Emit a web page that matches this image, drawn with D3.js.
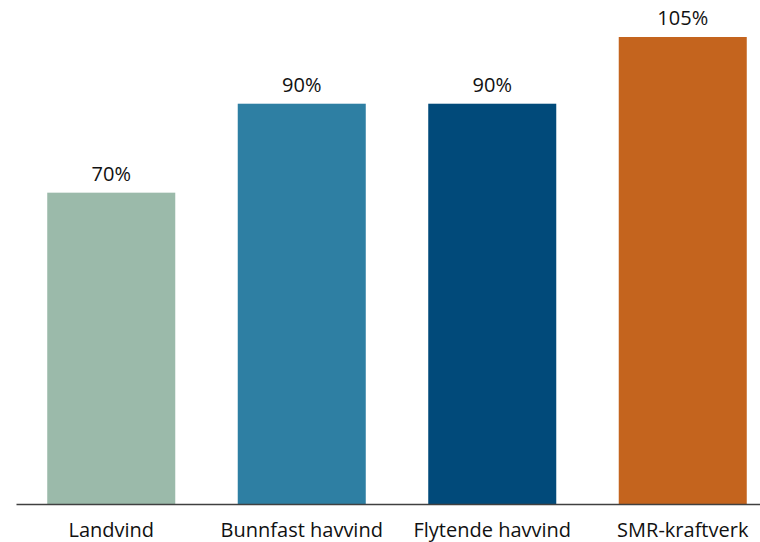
<!DOCTYPE html>
<html>
<head>
<meta charset="utf-8">
<script src="https://cdn.jsdelivr.net/npm/d3@7"></script>
<style>
  html, body { margin: 0; padding: 0; background: #fff; }
  svg { display: block; }
  text { font-family: "Open Sans", "Noto Sans", sans-serif; fill: #111; }
</style>
</head>
<body>
<svg id="chart" width="760" height="542"></svg>
<script>
// Technology categories and their values (percent)
const categories = ["Landvind", "Bunnfast havvind", "Flytende havvind", "SMR-kraftverk"];
const values = [70, 90, 90, 105];
const colors = ["#9bbaaa", "#2e7fa3", "#014a7a", "#c4641e"];

const svg = d3.select("#chart");
const baselineY = 504;
const topY = 37;
const fontSize = "20px";

const x = d3.scaleBand()
  .domain(categories)
  .range([16, 778])
  .paddingInner(0.328)
  .paddingOuter(0.164);

const y = d3.scaleLinear()
  .domain([0, 105])
  .range([baselineY, topY]);

// Bars
svg.selectAll("rect.bar")
  .data(categories)
  .join("rect")
  .attr("class", "bar")
  .attr("x", d => x(d))
  .attr("width", x.bandwidth())
  .attr("y", (d, i) => y(values[i]))
  .attr("height", (d, i) => y(0) - y(values[i]))
  .attr("fill", (d, i) => colors[i]);

// Value labels
svg.selectAll("text.val")
  .data(categories)
  .join("text")
  .attr("class", "val")
  .attr("x", d => x(d) + x.bandwidth() / 2)
  .attr("y", (d, i) => y(values[i]) - 12)
  .attr("text-anchor", "middle")
  .style("font-size", fontSize)
  .text((d, i) => values[i] + "%");

// Category axis
const axis = svg.append("g")
  .attr("transform", `translate(0,${baselineY})`)
  .call(d3.axisBottom(x).tickSize(0).tickPadding(19));
axis.select(".domain").attr("stroke", "#404040").attr("stroke-width", 1.5);
axis.selectAll(".tick text")
  .style("font-family", "'Open Sans', 'Noto Sans', sans-serif")
  .style("font-size", fontSize)
  .attr("fill", "#111");
</script>
</body>
</html>
